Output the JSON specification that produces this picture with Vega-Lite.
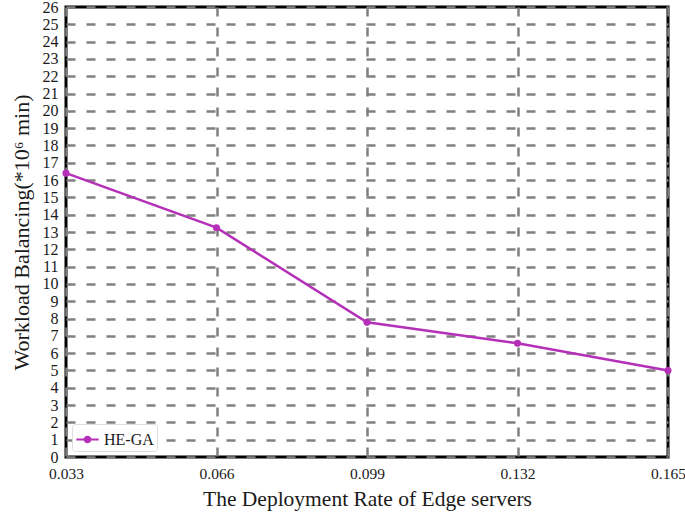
{
  "$schema": "https://vega.github.io/schema/vega-lite/v6.json",
  "width": 602,
  "height": 450,
  "autosize": {"type": "none"},
  "padding": {"left": 66, "top": 7, "right": 17, "bottom": 56},
  "background": "white",
  "config": {
    "view": {"stroke": "black", "strokeWidth": 3},
    "font": "Liberation Serif",
    "axis": {
      "labelFont": "Liberation Serif",
      "titleFont": "Liberation Serif",
      "labelColor": "#1a1a1a",
      "titleColor": "#1a1a1a",
      "titleFontWeight": "normal",
      "domain": false,
      "ticks": false,
      "labelFlush": false,
      "labelOverlap": false,
      "gridColor": "#808080",
      "gridWidth": 2.5,
      "gridDash": [9, 11],
      "gridOpacity": 1
    }
  },
  "data": {
    "values": [
      {"rate": 0.033, "wb": 16.4, "alg": "HE-GA"},
      {"rate": 0.066, "wb": 13.25, "alg": "HE-GA"},
      {"rate": 0.099, "wb": 7.78, "alg": "HE-GA"},
      {"rate": 0.132, "wb": 6.57, "alg": "HE-GA"},
      {"rate": 0.165, "wb": 5.0, "alg": "HE-GA"}
    ]
  },
  "mark": {"type": "line", "strokeWidth": 2.5, "point": {"size": 50, "filled": true}},
  "encoding": {
    "x": {
      "field": "rate", "type": "quantitative",
      "scale": {"domain": [0.033, 0.165], "nice": false, "zero": false},
      "axis": {
        "values": [0.033, 0.066, 0.099, 0.132, 0.165],
        "gridValues": [0.066, 0.099, 0.132, 0.165],
        "format": ".3f",
        "labelFont": "Liberation Serif",
        "labelFontSize": 15.5,
        "labelPadding": 9,
        "title": "The Deployment Rate of Edge servers",
        "titleFont": "Liberation Serif",
        "titleFontSize": 21.5,
        "titlePadding": 7
      }
    },
    "y": {
      "field": "wb", "type": "quantitative",
      "scale": {"domain": [0, 26], "nice": false},
      "axis": {
        "values": [0,1,2,3,4,5,6,7,8,9,10,11,12,13,14,15,16,17,18,19,20,21,22,23,24,25,26],
        "gridValues": [1,2,3,4,5,6,7,8,9,10,11,12,13,14,15,16,17,18,19,20,21,22,23,24,25],
        "labelFont": "Liberation Serif",
        "labelFontSize": 16,
        "labelPadding": 8,
        "title": "Workload Balancing(*10⁶ min)",
        "titleFont": "Liberation Serif",
        "titleFontSize": 22,
        "titlePadding": 9
      }
    },
    "color": {
      "field": "alg", "type": "nominal",
      "scale": {"range": ["#b530b8"]},
      "legend": {
        "title": null,
        "orient": "bottom-left",
        "offset": 6,
        "labelFont": "Liberation Serif",
        "labelFontSize": 16,
        "labelColor": "#1a1a1a",
        "strokeColor": "#dddddd",
        "cornerRadius": 3,
        "padding": 3,
        "symbolType": "M-1,0L1,0M-0.25,0A0.25,0.25 0 1 1 0.25,0A0.25,0.25 0 1 1 -0.25,0",
        "symbolSize": 500,
        "symbolStrokeWidth": 2,
        "symbolFillColor": "#b530b8",
        "symbolStrokeColor": "#b530b8",
        "fillColor": "white"
      }
    }
  }
}
